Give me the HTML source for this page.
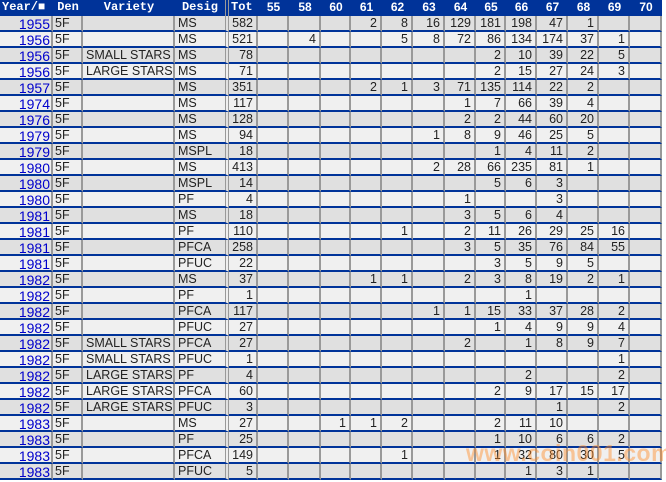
<!DOCTYPE html>
<html><head><meta charset="utf-8"><style>
body{margin:0;width:666px;height:482px;background:#fff;overflow:hidden;font-family:"Liberation Sans",Arial,sans-serif;position:relative}
.r{display:grid;grid-template-columns:53px 30px 92px 54px 29px 31px 32px 30px 31px 31px 32px 31px 30px 31px 31px 31px 31px 32px;width:662px;height:16px}
.r>span{box-sizing:border-box;border-right:2px solid #999;border-bottom:2px solid #003399;font-size:12.5px;line-height:14px;color:#222;text-align:right;padding-right:3px;white-space:nowrap;overflow:visible}
.r>span:nth-child(2),.r>span:nth-child(3),.r>span:nth-child(4){text-align:left;padding-left:3px;padding-right:0}
.r>span:nth-child(2){padding-left:2px}
.r>span:nth-child(4){border-right:4px double #999}
.r>span:first-child{color:#0000cc;font-size:14px;line-height:13px;padding-top:2px;padding-right:1px;height:16px;overflow:hidden}
.r:nth-child(odd)>span{background:#e0e0e0}
.r:nth-child(even)>span{background:#f0f0f0}
.h{display:grid;grid-template-columns:53px 30px 92px 54px 29px 31px 32px 30px 31px 31px 32px 31px 30px 31px 31px 31px 31px 32px;width:662px;height:16px;background:#003399}
.h>span{color:#fff;font-weight:bold;font-size:12px;line-height:15px;text-align:center;font-family:"Liberation Mono",monospace;box-sizing:border-box}
.h>span.n{font-family:"Liberation Sans",sans-serif}
.h>span:nth-child(4){border-right:4px double #999}
.wm{position:absolute;left:466px;top:440px;font-size:23px;font-weight:bold;color:rgba(255,140,40,0.45);letter-spacing:0.5px}
</style></head><body>
<div class="h"><span style="text-align:left;padding-left:2px">Year/■</span><span>Den</span><span>Variety</span><span>Desig</span><span style="text-align:left;padding-left:2px">Tot</span><span class="n">55</span><span class="n">58</span><span class="n">60</span><span class="n">61</span><span class="n">62</span><span class="n">63</span><span class="n">64</span><span class="n">65</span><span class="n">66</span><span class="n">67</span><span class="n">68</span><span class="n">69</span><span class="n">70</span></div>
<div id="b">
<div class="r"><span>1955</span><span>5F</span><span></span><span>MS</span><span>582</span><span></span><span></span><span></span><span>2</span><span>8</span><span>16</span><span>129</span><span>181</span><span>198</span><span>47</span><span>1</span><span></span><span></span></div>
<div class="r"><span>1956</span><span>5F</span><span></span><span>MS</span><span>521</span><span></span><span>4</span><span></span><span></span><span>5</span><span>8</span><span>72</span><span>86</span><span>134</span><span>174</span><span>37</span><span>1</span><span></span></div>
<div class="r"><span>1956</span><span>5F</span><span>SMALL STARS</span><span>MS</span><span>78</span><span></span><span></span><span></span><span></span><span></span><span></span><span></span><span>2</span><span>10</span><span>39</span><span>22</span><span>5</span><span></span></div>
<div class="r"><span>1956</span><span>5F</span><span>LARGE STARS</span><span>MS</span><span>71</span><span></span><span></span><span></span><span></span><span></span><span></span><span></span><span>2</span><span>15</span><span>27</span><span>24</span><span>3</span><span></span></div>
<div class="r"><span>1957</span><span>5F</span><span></span><span>MS</span><span>351</span><span></span><span></span><span></span><span>2</span><span>1</span><span>3</span><span>71</span><span>135</span><span>114</span><span>22</span><span>2</span><span></span><span></span></div>
<div class="r"><span>1974</span><span>5F</span><span></span><span>MS</span><span>117</span><span></span><span></span><span></span><span></span><span></span><span></span><span>1</span><span>7</span><span>66</span><span>39</span><span>4</span><span></span><span></span></div>
<div class="r"><span>1976</span><span>5F</span><span></span><span>MS</span><span>128</span><span></span><span></span><span></span><span></span><span></span><span></span><span>2</span><span>2</span><span>44</span><span>60</span><span>20</span><span></span><span></span></div>
<div class="r"><span>1979</span><span>5F</span><span></span><span>MS</span><span>94</span><span></span><span></span><span></span><span></span><span></span><span>1</span><span>8</span><span>9</span><span>46</span><span>25</span><span>5</span><span></span><span></span></div>
<div class="r"><span>1979</span><span>5F</span><span></span><span>MSPL</span><span>18</span><span></span><span></span><span></span><span></span><span></span><span></span><span></span><span>1</span><span>4</span><span>11</span><span>2</span><span></span><span></span></div>
<div class="r"><span>1980</span><span>5F</span><span></span><span>MS</span><span>413</span><span></span><span></span><span></span><span></span><span></span><span>2</span><span>28</span><span>66</span><span>235</span><span>81</span><span>1</span><span></span><span></span></div>
<div class="r"><span>1980</span><span>5F</span><span></span><span>MSPL</span><span>14</span><span></span><span></span><span></span><span></span><span></span><span></span><span></span><span>5</span><span>6</span><span>3</span><span></span><span></span><span></span></div>
<div class="r"><span>1980</span><span>5F</span><span></span><span>PF</span><span>4</span><span></span><span></span><span></span><span></span><span></span><span></span><span>1</span><span></span><span></span><span>3</span><span></span><span></span><span></span></div>
<div class="r"><span>1981</span><span>5F</span><span></span><span>MS</span><span>18</span><span></span><span></span><span></span><span></span><span></span><span></span><span>3</span><span>5</span><span>6</span><span>4</span><span></span><span></span><span></span></div>
<div class="r"><span>1981</span><span>5F</span><span></span><span>PF</span><span>110</span><span></span><span></span><span></span><span></span><span>1</span><span></span><span>2</span><span>11</span><span>26</span><span>29</span><span>25</span><span>16</span><span></span></div>
<div class="r"><span>1981</span><span>5F</span><span></span><span>PFCA</span><span>258</span><span></span><span></span><span></span><span></span><span></span><span></span><span>3</span><span>5</span><span>35</span><span>76</span><span>84</span><span>55</span><span></span></div>
<div class="r"><span>1981</span><span>5F</span><span></span><span>PFUC</span><span>22</span><span></span><span></span><span></span><span></span><span></span><span></span><span></span><span>3</span><span>5</span><span>9</span><span>5</span><span></span><span></span></div>
<div class="r"><span>1982</span><span>5F</span><span></span><span>MS</span><span>37</span><span></span><span></span><span></span><span>1</span><span>1</span><span></span><span>2</span><span>3</span><span>8</span><span>19</span><span>2</span><span>1</span><span></span></div>
<div class="r"><span>1982</span><span>5F</span><span></span><span>PF</span><span>1</span><span></span><span></span><span></span><span></span><span></span><span></span><span></span><span></span><span>1</span><span></span><span></span><span></span><span></span></div>
<div class="r"><span>1982</span><span>5F</span><span></span><span>PFCA</span><span>117</span><span></span><span></span><span></span><span></span><span></span><span>1</span><span>1</span><span>15</span><span>33</span><span>37</span><span>28</span><span>2</span><span></span></div>
<div class="r"><span>1982</span><span>5F</span><span></span><span>PFUC</span><span>27</span><span></span><span></span><span></span><span></span><span></span><span></span><span></span><span>1</span><span>4</span><span>9</span><span>9</span><span>4</span><span></span></div>
<div class="r"><span>1982</span><span>5F</span><span>SMALL STARS</span><span>PFCA</span><span>27</span><span></span><span></span><span></span><span></span><span></span><span></span><span>2</span><span></span><span>1</span><span>8</span><span>9</span><span>7</span><span></span></div>
<div class="r"><span>1982</span><span>5F</span><span>SMALL STARS</span><span>PFUC</span><span>1</span><span></span><span></span><span></span><span></span><span></span><span></span><span></span><span></span><span></span><span></span><span></span><span>1</span><span></span></div>
<div class="r"><span>1982</span><span>5F</span><span>LARGE STARS</span><span>PF</span><span>4</span><span></span><span></span><span></span><span></span><span></span><span></span><span></span><span></span><span>2</span><span></span><span></span><span>2</span><span></span></div>
<div class="r"><span>1982</span><span>5F</span><span>LARGE STARS</span><span>PFCA</span><span>60</span><span></span><span></span><span></span><span></span><span></span><span></span><span></span><span>2</span><span>9</span><span>17</span><span>15</span><span>17</span><span></span></div>
<div class="r"><span>1982</span><span>5F</span><span>LARGE STARS</span><span>PFUC</span><span>3</span><span></span><span></span><span></span><span></span><span></span><span></span><span></span><span></span><span></span><span>1</span><span></span><span>2</span><span></span></div>
<div class="r"><span>1983</span><span>5F</span><span></span><span>MS</span><span>27</span><span></span><span></span><span>1</span><span>1</span><span>2</span><span></span><span></span><span>2</span><span>11</span><span>10</span><span></span><span></span><span></span></div>
<div class="r"><span>1983</span><span>5F</span><span></span><span>PF</span><span>25</span><span></span><span></span><span></span><span></span><span></span><span></span><span></span><span>1</span><span>10</span><span>6</span><span>6</span><span>2</span><span></span></div>
<div class="r"><span>1983</span><span>5F</span><span></span><span>PFCA</span><span>149</span><span></span><span></span><span></span><span></span><span>1</span><span></span><span></span><span>1</span><span>32</span><span>80</span><span>30</span><span>5</span><span></span></div>
<div class="r"><span>1983</span><span>5F</span><span></span><span>PFUC</span><span>5</span><span></span><span></span><span></span><span></span><span></span><span></span><span></span><span></span><span>1</span><span>3</span><span>1</span><span></span><span></span></div>
</div>
<div class="wm">www.coin001.com</div>
</body></html>
